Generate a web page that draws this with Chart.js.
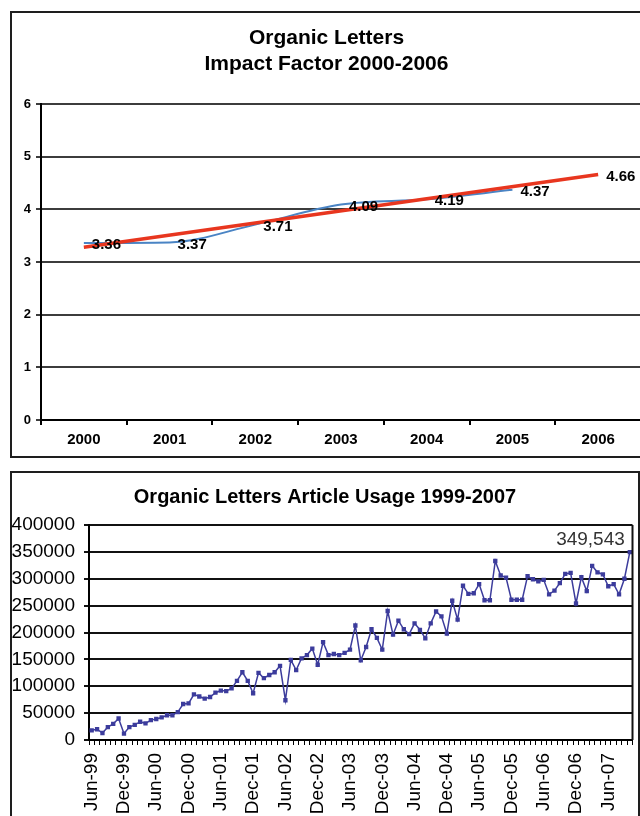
<!DOCTYPE html>
<html>
<head>
<meta charset="utf-8">
<script src="https://cdn.jsdelivr.net/npm/chart.js@4.4.1/dist/chart.umd.min.js"></script>
<style>
  html, body { margin: 0; padding: 0; background: #fff; }
  body { width: 640px; height: 816px; overflow: hidden; position: relative; }
  .box { position: absolute; border: 2px solid #1e1e1e; }
  #topBox { left: 10px; top: 11px; width: 700px; height: 443px; }
  #bottomBox { left: 10px; top: 471px; width: 626px; height: 400px; }
  .box canvas { position: absolute; left: 0; top: 0; }
</style>
</head>
<body>
<div class="box" id="topBox"><canvas id="impactChart" width="640" height="443"></canvas></div>
<div class="box" id="bottomBox"><canvas id="usageChart" width="626" height="345"></canvas></div>
<script>
// Impact factor chart data
const years = ['2000', '2001', '2002', '2003', '2004', '2005', '2006'];
const impactFactor = [3.36, 3.37, 3.71, 4.09, 4.19, 4.37, null];
const trendLine = [3.28, null, null, null, null, null, 4.66];

// Article usage chart data (monthly, Jun-99 .. Oct-07)
const usageMonths = [
  'Jun-99', 'Jul-99', 'Aug-99', 'Sep-99', 'Oct-99', 'Nov-99', 'Dec-99',
  'Jan-00', 'Feb-00', 'Mar-00', 'Apr-00', 'May-00', 'Jun-00', 'Jul-00', 'Aug-00', 'Sep-00', 'Oct-00', 'Nov-00', 'Dec-00',
  'Jan-01', 'Feb-01', 'Mar-01', 'Apr-01', 'May-01', 'Jun-01', 'Jul-01', 'Aug-01', 'Sep-01', 'Oct-01', 'Nov-01', 'Dec-01',
  'Jan-02', 'Feb-02', 'Mar-02', 'Apr-02', 'May-02', 'Jun-02', 'Jul-02', 'Aug-02', 'Sep-02', 'Oct-02', 'Nov-02', 'Dec-02',
  'Jan-03', 'Feb-03', 'Mar-03', 'Apr-03', 'May-03', 'Jun-03', 'Jul-03', 'Aug-03', 'Sep-03', 'Oct-03', 'Nov-03', 'Dec-03',
  'Jan-04', 'Feb-04', 'Mar-04', 'Apr-04', 'May-04', 'Jun-04', 'Jul-04', 'Aug-04', 'Sep-04', 'Oct-04', 'Nov-04', 'Dec-04',
  'Jan-05', 'Feb-05', 'Mar-05', 'Apr-05', 'May-05', 'Jun-05', 'Jul-05', 'Aug-05', 'Sep-05', 'Oct-05', 'Nov-05', 'Dec-05',
  'Jan-06', 'Feb-06', 'Mar-06', 'Apr-06', 'May-06', 'Jun-06', 'Jul-06', 'Aug-06', 'Sep-06', 'Oct-06', 'Nov-06', 'Dec-06',
  'Jan-07', 'Feb-07', 'Mar-07', 'Apr-07', 'May-07', 'Jun-07', 'Jul-07', 'Aug-07', 'Sep-07', 'Oct-07'
];
const usageValues = [
  18000, 20000, 13000, 24000, 30000, 40000, 12000,
  24000, 28000, 34000, 31000, 37000, 39000, 42000, 46000, 46000, 52000, 67000, 68000,
  85000, 81000, 77000, 80000, 88000, 92000, 91000, 96000, 110000, 126000, 110000, 87000,
  125000, 115000, 121000, 126000, 138000, 74000, 149000, 130000, 152000, 158000, 170000, 140000,
  182000, 158000, 160000, 158000, 162000, 168000, 213000, 148000, 173000, 206000, 190000, 168000,
  240000, 196000, 222000, 206000, 197000, 217000, 205000, 189000, 217000, 239000, 230000, 198000,
  259000, 224000, 287000, 272000, 273000, 290000, 260000, 260000, 333000, 306000, 302000, 261000,
  261000, 261000, 305000, 299000, 295000, 298000, 271000, 278000, 292000, 309000, 311000, 254000,
  303000, 277000, 324000, 312000, 308000, 286000, 290000, 271000, 300000, 349543
];
const usageTickLabels = ['Jun-99', 'Dec-99', 'Jun-00', 'Dec-00', 'Jun-01', 'Dec-01', 'Jun-02', 'Dec-02',
  'Jun-03', 'Dec-03', 'Jun-04', 'Dec-04', 'Jun-05', 'Dec-05', 'Jun-06', 'Dec-06', 'Jun-07'];

const sans = "'Liberation Sans', Arial, sans-serif";

// value labels next to the points of the impact chart
const impactLabels = {
  id: 'impactLabels',
  afterDatasetsDraw(chart) {
    const ctx = chart.ctx;
    ctx.save();
    ctx.font = 'bold 15px ' + sans;
    ctx.fillStyle = '#000';
    ctx.textAlign = 'left';
    ctx.textBaseline = 'middle';
    chart.data.datasets.forEach((ds, i) => {
      const pts = chart.getDatasetMeta(i).data;
      ds.data.forEach((v, j) => {
        if (v === null) return;
        if (ds.labelLast && j !== ds.data.length - 1) return;
        ctx.fillText(v.toFixed(2), pts[j].x + 8, pts[j].y + 2);
      });
    });
    ctx.restore();
  }
};

// right frame + last value annotation on the usage chart
const usageExtras = {
  id: 'usageExtras',
  afterDatasetsDraw(chart) {
    const ctx = chart.ctx;
    const a = chart.chartArea;
    ctx.save();
    ctx.strokeStyle = '#111';
    ctx.lineWidth = 2;
    ctx.beginPath();
    ctx.moveTo(a.right, a.top);
    ctx.lineTo(a.right, a.bottom);
    ctx.stroke();
    const pts = chart.getDatasetMeta(0).data;
    const last = pts[pts.length - 1];
    const val = usageValues[usageValues.length - 1];
    ctx.font = '19px ' + sans;
    ctx.fillStyle = '#333';
    ctx.textAlign = 'right';
    ctx.textBaseline = 'middle';
    ctx.fillText(val.toLocaleString('en-US'), last.x - 5, last.y - 12);
    ctx.restore();
  }
};

new Chart(document.getElementById('impactChart'), {
  type: 'line',
  data: {
    labels: years,
    datasets: [{
      label: 'Trend',
      data: trendLine,
      borderColor: '#e8361f',
      borderWidth: 3.5,
      pointRadius: 0,
      spanGaps: true,
      labelLast: true,
      order: 0
    }, {
      label: 'Impact Factor',
      data: impactFactor,
      borderColor: '#4a84c4',
      borderWidth: 2,
      pointRadius: 0,
      cubicInterpolationMode: 'monotone',
      order: 1
    }]
  },
  options: {
    responsive: false,
    animation: false,
    layout: { padding: { left: 0, right: 11, top: 0, bottom: 0 } },
    scales: {
      x: {
        offset: true,
        grid: { offset: true, drawOnChartArea: false, tickLength: 5, color: '#000', lineWidth: 2 },
        border: { color: '#000', width: 2 },
        ticks: { color: '#000', padding: 6, font: { family: sans, size: 15, weight: 'bold' } },
        afterFit: s => { s.height = 36; s.paddingLeft = 0; s.paddingRight = 0; }
      },
      y: {
        min: 0,
        max: 6,
        ticks: { stepSize: 1, color: '#000', padding: 5, font: { family: sans, size: 13, weight: 'bold' } },
        grid: { color: '#3c3c3c', lineWidth: 2, tickLength: 5 },
        border: { color: '#000', width: 2 },
        afterFit: s => { s.width = 29; }
      }
    },
    plugins: {
      legend: { display: false },
      tooltip: { enabled: false },
      title: {
        display: true,
        text: ['Organic Letters', 'Impact Factor 2000-2006'],
        color: '#000',
        font: { family: sans, size: 21, weight: 'bold', lineHeight: '26px' },
        padding: { top: 12, bottom: 27 }
      }
    }
  },
  plugins: [impactLabels]
});

new Chart(document.getElementById('usageChart'), {
  type: 'line',
  data: {
    labels: usageMonths,
    datasets: [{
      label: 'Article Usage',
      data: usageValues,
      borderColor: '#3c3c9c',
      backgroundColor: '#3c3c9c',
      borderWidth: 1.5,
      pointStyle: 'rect',
      pointRadius: 2,
      tension: 0
    }]
  },
  options: {
    responsive: false,
    animation: false,
    layout: { padding: { left: 0, right: 0, top: 0, bottom: 0 } },
    scales: {
      x: {
        offset: true,
        grid: { offset: true, drawOnChartArea: false, tickLength: 5, color: '#000', lineWidth: 1 },
        border: { color: '#000', width: 2 },
        ticks: {
          autoSkip: false,
          maxRotation: 90,
          minRotation: 90,
          padding: 8,
          color: '#000',
          font: { family: sans, size: 19 },
          callback: function(value) {
            const m = this.getLabelForValue(value);
            return usageTickLabels.includes(m) ? m : '';
          }
        },
        afterFit: s => { s.height = 78; s.paddingLeft = 0; s.paddingRight = 0; }
      },
      y: {
        min: 0,
        max: 400000,
        ticks: {
          stepSize: 50000,
          color: '#000',
          padding: 9,
          font: { family: sans, size: 19 },
          callback: v => String(v)
        },
        grid: { color: '#111', lineWidth: 2, tickLength: 5 },
        border: { color: '#000', width: 2 },
        afterFit: s => { s.width = 77; }
      }
    },
    plugins: {
      legend: { display: false },
      tooltip: { enabled: false },
      title: {
        display: true,
        text: 'Organic Letters Article Usage 1999-2007',
        color: '#000',
        font: { family: sans, size: 20, weight: 'bold', lineHeight: '24px' },
        padding: { top: 12, bottom: 16 }
      }
    }
  },
  plugins: [usageExtras]
});
</script>
</body>
</html>
